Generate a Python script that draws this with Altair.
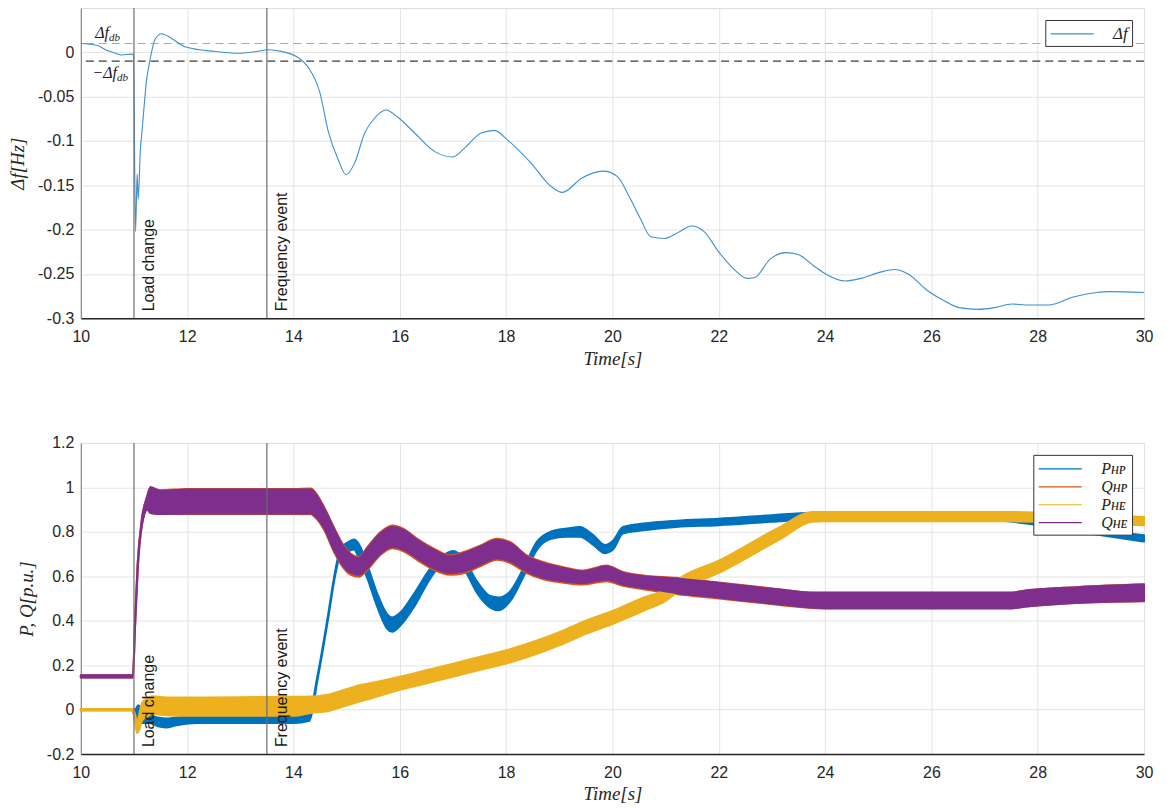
import altair as alt
import pandas as pd

# ---------------- data ----------------
x_ticks = [10, 12, 14, 16, 18, 20, 22, 24, 26, 28, 30]
top_y_ticks = [0, -0.05, -0.1, -0.15, -0.2, -0.25, -0.3]
bot_y_ticks = [-0.2, 0, 0.2, 0.4, 0.6, 0.8, 1, 1.2]

# frequency deviation (top panel)
t_df = [10.0, 10.3, 10.5, 10.65, 10.77, 10.96, 10.99, 11.03, 11.06, 11.08, 11.12, 11.15,
        11.24, 11.3, 11.4, 11.52, 11.7, 11.97, 12.53, 12.96, 13.3, 13.53, 13.85, 14.09,
        14.28, 14.5, 14.65, 14.84, 14.99, 15.15, 15.34, 15.53, 15.74, 15.96, 16.28, 16.66,
        17.0, 17.22, 17.53, 17.78, 18.03, 18.47, 18.84, 19.06, 19.42, 19.83, 20.09, 20.31,
        20.53, 20.72, 20.98, 21.27, 21.49, 21.72, 22.01, 22.31, 22.53, 22.68, 22.97, 23.27,
        23.49, 23.79, 24.01, 24.38, 24.67, 25.04, 25.30, 25.56, 25.93, 26.23, 26.52, 26.89,
        27.19, 27.52, 27.78, 28.22, 28.67, 29.11, 29.33, 30.0]
v_df = [0.010, 0.008, 0.002, -0.001, -0.003, -0.002, -0.003, -0.202, -0.137, -0.166, -0.110, -0.090,
        -0.030, -0.009, 0.015, 0.021, 0.016, 0.006, 0.001, -0.001, 0.001, 0.003, 0.0, -0.006,
        -0.017, -0.046, -0.088, -0.121, -0.138, -0.125, -0.091, -0.074, -0.065, -0.073, -0.091, -0.112,
        -0.118, -0.108, -0.091, -0.088, -0.099, -0.125, -0.151, -0.158, -0.142, -0.134, -0.140, -0.162,
        -0.188, -0.208, -0.210, -0.202, -0.196, -0.202, -0.226, -0.246, -0.255, -0.254, -0.233, -0.226,
        -0.228, -0.241, -0.250, -0.258, -0.255, -0.248, -0.245, -0.250, -0.269, -0.280, -0.288, -0.290,
        -0.288, -0.284, -0.285, -0.285, -0.276, -0.271, -0.270, -0.271]

db_levels = [0.01, -0.01]

event_t = [11.0, 13.5]
event_text = ["Load change", "Frequency event"]

db_ann_t = [10.53, 10.68]
db_ann_v = [0.0165, -0.029]
db_ann_main = ["Δf", "−Δf"]
db_ann_sub = ["db", "db"]

series_names = ["Pʜᴘ", "Qʜᴘ", "Pʜᴇ", "Qʜᴇ"]
series_colors = ["#0072BD", "#D95319", "#EDB120", "#7E2F8E"]

# P_HP band (lower / upper envelope)
t_php = [10.0, 10.98, 11.02, 11.08, 11.15, 11.3, 11.45, 11.6, 11.8, 12.2, 13.0, 14.0, 14.3,
         14.45, 14.64, 14.79, 14.89, 15.01, 15.14, 15.23, 15.39, 15.58, 15.76, 15.86, 16.01,
         16.26, 16.58, 16.83, 17.01, 17.2, 17.45, 17.7, 17.86, 18.08, 18.33, 18.58, 18.83,
         19.14, 19.39, 19.64, 19.86, 20.01, 20.2, 20.58, 21.2, 22.0, 23.0, 23.76, 24.5, 27.0,
         27.7, 28.76, 30.0]
lo_php = [-0.003, -0.003, -0.05, -0.07, -0.06, -0.06, -0.075, -0.08, -0.07, -0.06, -0.06, -0.06, -0.05,
          0.13, 0.39, 0.61, 0.70, 0.71, 0.72, 0.68, 0.59, 0.46, 0.365, 0.35, 0.378,
          0.459, 0.593, 0.667, 0.681, 0.637, 0.526, 0.459, 0.447, 0.489, 0.60, 0.719, 0.767,
          0.778, 0.778, 0.741, 0.704, 0.72, 0.793, 0.807, 0.822, 0.83, 0.845, 0.855, 0.855, 0.855,
          0.84, 0.80, 0.756]
hi_php = [0.003, 0.003, 0.0, 0.02, 0.0, -0.025, -0.035, -0.04, -0.035, -0.03, -0.03, -0.03, -0.015,
          0.15, 0.41, 0.63, 0.73, 0.75, 0.765, 0.745, 0.65, 0.52, 0.43, 0.415, 0.437,
          0.519, 0.637, 0.696, 0.714, 0.681, 0.578, 0.511, 0.504, 0.533, 0.637, 0.756, 0.80,
          0.815, 0.822, 0.785, 0.741, 0.76, 0.822, 0.837, 0.85, 0.859, 0.875, 0.885, 0.885, 0.885,
          0.875, 0.822, 0.785]

# Q_HE band
t_qhe = [10.0, 10.98, 11.02, 11.07, 11.15, 11.25, 11.31, 11.5, 12.0, 13.0, 14.0, 14.33, 14.39,
         14.58, 14.76, 14.92, 15.08, 15.23, 15.39, 15.64, 15.86, 16.08, 16.33, 16.64, 16.95,
         17.2, 17.51, 17.83, 18.08, 18.39, 18.7, 19.08, 19.45, 19.89, 20.2, 20.58, 21.2, 22.0,
         23.14, 23.76, 24.0, 27.51, 27.7, 28.76, 30.0]
lo_qhe = [0.145, 0.145, 0.37, 0.63, 0.83, 0.90, 0.885, 0.88, 0.882, 0.882, 0.882, 0.882, 0.875,
          0.815, 0.719, 0.652, 0.615, 0.607, 0.637, 0.704, 0.733, 0.719, 0.681, 0.637, 0.615,
          0.622, 0.652, 0.681, 0.667, 0.622, 0.593, 0.578, 0.570, 0.585, 0.563, 0.548, 0.525, 0.504,
          0.474, 0.459, 0.456, 0.456, 0.462, 0.481, 0.489]
hi_qhe = [0.155, 0.155, 0.40, 0.66, 0.86, 0.96, 1.0, 0.985, 0.99, 0.99, 0.99, 0.99, 0.978,
          0.904, 0.815, 0.741, 0.696, 0.681, 0.726, 0.793, 0.822, 0.807, 0.763, 0.719, 0.689,
          0.704, 0.733, 0.763, 0.748, 0.689, 0.659, 0.637, 0.622, 0.644, 0.615, 0.60, 0.59, 0.570,
          0.54, 0.526, 0.526, 0.526, 0.533, 0.551, 0.563]

# Q_HP band (almost hidden under Q_HE)
t_qhp = t_qhe
lo_qhp = [0.145, 0.145, 0.37, 0.63, 0.83, 0.90, 0.885, 0.88, 0.88, 0.88, 0.88, 0.879, 0.869,
          0.808, 0.711, 0.644, 0.606, 0.598, 0.629, 0.697, 0.726, 0.711, 0.673, 0.629, 0.607,
          0.614, 0.645, 0.674, 0.659, 0.614, 0.586, 0.571, 0.563, 0.578, 0.557, 0.542, 0.520, 0.500,
          0.471, 0.457, 0.455, 0.455, 0.461, 0.480, 0.488]
hi_qhp = [0.155, 0.155, 0.40, 0.66, 0.86, 0.96, 1.0, 0.987, 0.993, 0.993, 0.993, 0.995, 0.984,
          0.910, 0.821, 0.747, 0.701, 0.686, 0.731, 0.799, 0.828, 0.812, 0.768, 0.724, 0.694,
          0.709, 0.738, 0.769, 0.753, 0.694, 0.664, 0.641, 0.626, 0.648, 0.619, 0.604, 0.593, 0.572,
          0.542, 0.527, 0.527, 0.527, 0.534, 0.552, 0.564]

# P_HE band
t_phe = [10.0, 10.98, 11.03, 11.06, 11.1, 11.15, 11.25, 11.35, 11.6, 12.0, 13.0, 14.0, 14.33,
         14.64, 14.95, 15.26, 15.58, 16.0, 16.51, 17.0, 17.5, 18.0, 18.5, 19.0, 19.5, 20.0,
         20.58, 21.0, 21.26, 22.0, 23.14, 23.76, 24.0, 27.5, 28.76, 30.0]
lo_phe = [-0.003, -0.003, -0.07, -0.105, -0.09, -0.05, -0.03, -0.02, -0.025, -0.028, -0.028, -0.028, -0.015,
          -0.007, 0.015, 0.037, 0.059, 0.089, 0.119, 0.148, 0.178, 0.207, 0.244, 0.289, 0.341, 0.385,
          0.444, 0.489, 0.535, 0.615, 0.765, 0.845, 0.847, 0.847, 0.84, 0.83]
hi_phe = [0.003, 0.003, -0.03, -0.06, -0.02, 0.03, 0.05, 0.06, 0.055, 0.055, 0.056, 0.058, 0.059,
          0.067, 0.089, 0.111, 0.126, 0.148, 0.178, 0.207, 0.237, 0.267, 0.304, 0.348, 0.40, 0.444,
          0.504, 0.541, 0.59, 0.67, 0.82, 0.889, 0.889, 0.889, 0.88, 0.867]

# ---------------- styling ----------------
W = 1066
H_TOP = 311
H_BOT = 312
SANS = "Liberation Sans"
SERIF = "Liberation Serif"
TXT = "#262626"
GRID = "#e4e4e4"
LEG_SYMBOL = "M-2.4,0L2.4,0"

x_scale = alt.Scale(domain=[10, 30], nice=False, zero=False)
y_top_scale = alt.Scale(domain=[-0.3, 0.05], nice=False, zero=False)
y_bot_scale = alt.Scale(domain=[-0.2, 1.2], nice=False, zero=False)


def x_axis():
    return alt.Axis(values=x_ticks, title="Time[s]", titleFont=SERIF, titleFontStyle="italic",
                    titleFontWeight="normal", titleFontSize=19, titleColor=TXT, titlePadding=5,
                    labelFont=SANS, labelFontSize=16, labelColor=TXT, labelPadding=10,
                    ticks=False, domainColor=TXT, domainWidth=1.5, grid=True, gridColor=GRID,
                    labelFlush=False)


def y_axis(vals, title):
    return alt.Axis(values=vals, title=title, titleFont=SERIF, titleFontStyle="italic",
                    titleFontWeight="normal", titleFontSize=19, titleColor=TXT, titlePadding=10,
                    labelFont=SANS, labelFontSize=16, labelColor=TXT, labelPadding=7,
                    ticks=False, domainColor="#7a7a7a", domainWidth=1, grid=True, gridColor=GRID,
                    labelExpr="toString(datum.value)", labelFlush=False)


def legend(label_size):
    return alt.Legend(title=None, orient="top-right", offset=12,
                      symbolType=LEG_SYMBOL, symbolSize=324, symbolStrokeWidth=1.2,
                      symbolOffset=13, labelOffset=31,
                      labelFont=SERIF, labelFontStyle="italic", labelFontSize=label_size,
                      labelColor=TXT, strokeColor="#333333", fillColor="white",
                      padding=4, rowPadding=0)


XT = lambda: alt.X("t:Q", scale=x_scale, axis=x_axis())
YT = lambda f: alt.Y(f, scale=y_top_scale, axis=y_axis(top_y_ticks, "Δf[Hz]"))
YB = lambda f: alt.Y(f, scale=y_bot_scale, axis=y_axis(bot_y_ticks, "P, Q[p.u.]"))

# ---------------- top panel ----------------
df_f = pd.DataFrame({"t": t_df, "v": v_df, "series": "Δf"})
df_db_hi = pd.DataFrame({"v": [db_levels[0]]})
df_db_lo = pd.DataFrame({"v": [db_levels[1]]})
df_ev = pd.DataFrame({"t": event_t, "label": event_text})
df_ann = pd.DataFrame({"t": db_ann_t, "v": db_ann_v, "main": db_ann_main, "sub": db_ann_sub})

db_hi_rule = alt.Chart(df_db_hi).mark_rule(color="#a9a9a9", strokeWidth=1.2, strokeDash=[8, 5]).encode(y=YT("v:Q"))
db_lo_rule = alt.Chart(df_db_lo).mark_rule(color="#3c3c3c", strokeWidth=1.2, strokeDash=[8, 5]).encode(y=YT("v:Q"))

ev_rule_top = alt.Chart(df_ev).mark_rule(color="#6e6e6e", strokeWidth=1.2).encode(x=XT())
ev_text_top = alt.Chart(df_ev).mark_text(
    angle=270, align="left", baseline="top", dx=7, dy=7, font=SANS, fontSize=16, color="#1a1a1a"
).encode(x=XT(), y=alt.YDatum(-0.3, scale=y_top_scale, axis=y_axis(top_y_ticks, "Δf[Hz]")), text="label:N")

f_line = alt.Chart(df_f).mark_line(strokeWidth=1.1, interpolate="monotone").encode(
    x=XT(), y=YT("v:Q"),
    color=alt.Color("series:N", scale=alt.Scale(domain=["Δf"], range=["#3d8fd1"]), legend=legend(17)),
)

ann_main = alt.Chart(df_ann).mark_text(align="right", baseline="alphabetic", font=SERIF,
                                       fontStyle="italic", fontSize=16, color="#1a1a1a").encode(
    x=XT(), y=YT("v:Q"), text="main:N")
ann_sub = alt.Chart(df_ann).mark_text(align="left", baseline="alphabetic", dy=3, font=SERIF,
                                      fontStyle="italic", fontSize=11, color="#1a1a1a").encode(
    x=XT(), y=YT("v:Q"), text="sub:N")

top = alt.layer(db_hi_rule, db_lo_rule, f_line, ev_rule_top, ev_text_top, ann_main, ann_sub).properties(
    width=W, height=H_TOP)

# ---------------- bottom panel ----------------
ser_scale = alt.Scale(domain=series_names, range=series_colors)


def band(name, t, lo, hi):
    d = pd.DataFrame({"t": t, "lo": lo, "hi": hi, "series": name})
    return alt.Chart(d).mark_area(interpolate="monotone", strokeWidth=2, opacity=1, strokeJoin="round").encode(
        x=XT(), y=YB("lo:Q"), y2="hi:Q",
        fill=alt.Fill("series:N", scale=ser_scale, legend=legend(16)),
        stroke=alt.Stroke("series:N", scale=ser_scale, legend=legend(16)),
    )


b_php = band(series_names[0], t_php, lo_php, hi_php)
b_qhp = band(series_names[1], t_qhp, lo_qhp, hi_qhp)
b_phe = band(series_names[2], t_phe, lo_phe, hi_phe)
b_qhe = band(series_names[3], t_qhe, lo_qhe, hi_qhe)

ev_rule_bot = alt.Chart(df_ev).mark_rule(color="#6e6e6e", strokeWidth=1.2).encode(x=XT())
ev_text_bot = alt.Chart(df_ev).mark_text(
    angle=270, align="left", baseline="top", dx=7, dy=7, font=SANS, fontSize=16, color="#1a1a1a"
).encode(x=XT(), y=alt.YDatum(-0.2, scale=y_bot_scale, axis=y_axis(bot_y_ticks, "P, Q[p.u.]")), text="label:N")

bottom = alt.layer(b_php, b_qhp, b_phe, b_qhe, ev_rule_bot, ev_text_bot).properties(width=W, height=H_BOT)

chart = alt.vconcat(top, bottom, spacing=65).resolve_scale(
    x="independent", y="independent", color="independent", stroke="independent", fill="independent"
).resolve_legend(color="independent", stroke="independent", fill="independent").properties(
    padding={"left": 0, "top": -3, "right": 5, "bottom": 0}
).configure_view(stroke="#b8b8b8", strokeWidth=1).configure(background="white")

chart.save("out.html", embed_options={"renderer": "svg", "actions": False})
